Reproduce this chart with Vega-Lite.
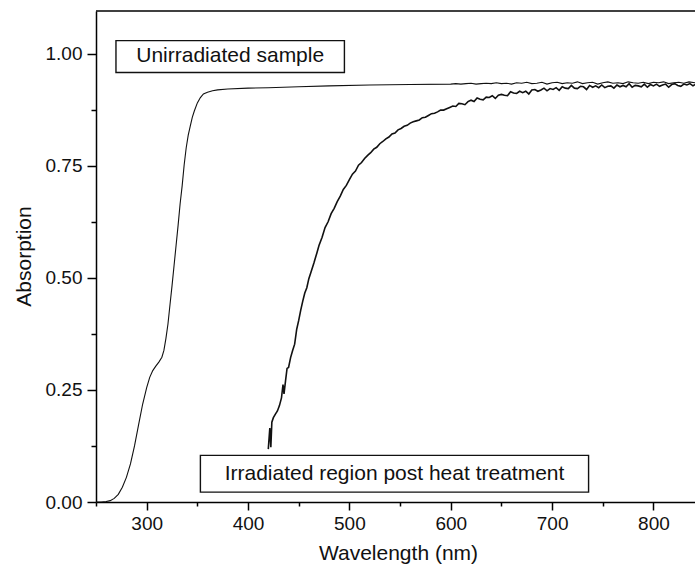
{
  "$schema": "https://vega.github.io/schema/vega-lite/v6.json",
  "autosize": "none",
  "width": 599,
  "height": 491,
  "padding": {"left": 96, "top": 11, "right": 0, "bottom": 63},
  "background": "white",
  "config": {
    "view": {"stroke": null},
    "font": "Liberation Sans",
    "axis": {
      "grid": false,
      "domainColor": "#000",
      "domainWidth": 1.5,
      "tickColor": "#000",
      "tickWidth": 1.5,
      "labelFont": "Liberation Sans",
      "labelFontSize": 19,
      "labelColor": "#111",
      "titleFont": "Liberation Sans",
      "titleFontSize": 21,
      "titleFontWeight": "normal",
      "titleColor": "#111"
    }
  },
  "resolve": {"axis": {"x": "independent", "y": "independent"}},
  "datasets": {
    "spectra": [
      {"series": "Unirradiated", "wl": 250, "abs": 0},
      {"series": "Unirradiated", "wl": 255, "abs": 0},
      {"series": "Unirradiated", "wl": 260, "abs": 0.001},
      {"series": "Unirradiated", "wl": 264, "abs": 0.003},
      {"series": "Unirradiated", "wl": 268, "abs": 0.008},
      {"series": "Unirradiated", "wl": 272, "abs": 0.017},
      {"series": "Unirradiated", "wl": 276, "abs": 0.033},
      {"series": "Unirradiated", "wl": 280, "abs": 0.055},
      {"series": "Unirradiated", "wl": 284, "abs": 0.085},
      {"series": "Unirradiated", "wl": 288, "abs": 0.125},
      {"series": "Unirradiated", "wl": 292, "abs": 0.172},
      {"series": "Unirradiated", "wl": 296, "abs": 0.218},
      {"series": "Unirradiated", "wl": 300, "abs": 0.255},
      {"series": "Unirradiated", "wl": 303, "abs": 0.278},
      {"series": "Unirradiated", "wl": 306, "abs": 0.293},
      {"series": "Unirradiated", "wl": 309, "abs": 0.303},
      {"series": "Unirradiated", "wl": 312, "abs": 0.312},
      {"series": "Unirradiated", "wl": 315, "abs": 0.323},
      {"series": "Unirradiated", "wl": 317, "abs": 0.338},
      {"series": "Unirradiated", "wl": 319, "abs": 0.365},
      {"series": "Unirradiated", "wl": 321, "abs": 0.397},
      {"series": "Unirradiated", "wl": 323, "abs": 0.44},
      {"series": "Unirradiated", "wl": 325, "abs": 0.482},
      {"series": "Unirradiated", "wl": 327, "abs": 0.527},
      {"series": "Unirradiated", "wl": 329, "abs": 0.572},
      {"series": "Unirradiated", "wl": 331, "abs": 0.617},
      {"series": "Unirradiated", "wl": 333, "abs": 0.665},
      {"series": "Unirradiated", "wl": 335, "abs": 0.705},
      {"series": "Unirradiated", "wl": 337, "abs": 0.752},
      {"series": "Unirradiated", "wl": 339, "abs": 0.79},
      {"series": "Unirradiated", "wl": 341, "abs": 0.818},
      {"series": "Unirradiated", "wl": 343, "abs": 0.838},
      {"series": "Unirradiated", "wl": 345, "abs": 0.858},
      {"series": "Unirradiated", "wl": 347, "abs": 0.872},
      {"series": "Unirradiated", "wl": 350, "abs": 0.89},
      {"series": "Unirradiated", "wl": 353, "abs": 0.902},
      {"series": "Unirradiated", "wl": 356, "abs": 0.91},
      {"series": "Unirradiated", "wl": 360, "abs": 0.914},
      {"series": "Unirradiated", "wl": 365, "abs": 0.917},
      {"series": "Unirradiated", "wl": 370, "abs": 0.919},
      {"series": "Unirradiated", "wl": 380, "abs": 0.921},
      {"series": "Unirradiated", "wl": 400, "abs": 0.923},
      {"series": "Unirradiated", "wl": 420, "abs": 0.924},
      {"series": "Unirradiated", "wl": 450, "abs": 0.926},
      {"series": "Unirradiated", "wl": 480, "abs": 0.928},
      {"series": "Unirradiated", "wl": 520, "abs": 0.93},
      {"series": "Unirradiated", "wl": 560, "abs": 0.931},
      {"series": "Unirradiated", "wl": 600, "abs": 0.932},
      {"series": "Unirradiated", "wl": 605, "abs": 0.933},
      {"series": "Unirradiated", "wl": 610, "abs": 0.932},
      {"series": "Unirradiated", "wl": 615, "abs": 0.933},
      {"series": "Unirradiated", "wl": 620, "abs": 0.934},
      {"series": "Unirradiated", "wl": 625, "abs": 0.932},
      {"series": "Unirradiated", "wl": 630, "abs": 0.933},
      {"series": "Unirradiated", "wl": 635, "abs": 0.934},
      {"series": "Unirradiated", "wl": 640, "abs": 0.933},
      {"series": "Unirradiated", "wl": 645, "abs": 0.935},
      {"series": "Unirradiated", "wl": 650, "abs": 0.933},
      {"series": "Unirradiated", "wl": 655, "abs": 0.934},
      {"series": "Unirradiated", "wl": 660, "abs": 0.932},
      {"series": "Unirradiated", "wl": 665, "abs": 0.935},
      {"series": "Unirradiated", "wl": 670, "abs": 0.934},
      {"series": "Unirradiated", "wl": 675, "abs": 0.936},
      {"series": "Unirradiated", "wl": 680, "abs": 0.933},
      {"series": "Unirradiated", "wl": 685, "abs": 0.934},
      {"series": "Unirradiated", "wl": 690, "abs": 0.936},
      {"series": "Unirradiated", "wl": 695, "abs": 0.932},
      {"series": "Unirradiated", "wl": 700, "abs": 0.935},
      {"series": "Unirradiated", "wl": 705, "abs": 0.936},
      {"series": "Unirradiated", "wl": 710, "abs": 0.933},
      {"series": "Unirradiated", "wl": 715, "abs": 0.935},
      {"series": "Unirradiated", "wl": 720, "abs": 0.934},
      {"series": "Unirradiated", "wl": 725, "abs": 0.937},
      {"series": "Unirradiated", "wl": 730, "abs": 0.933},
      {"series": "Unirradiated", "wl": 735, "abs": 0.935},
      {"series": "Unirradiated", "wl": 740, "abs": 0.936},
      {"series": "Unirradiated", "wl": 745, "abs": 0.932},
      {"series": "Unirradiated", "wl": 750, "abs": 0.935},
      {"series": "Unirradiated", "wl": 755, "abs": 0.937},
      {"series": "Unirradiated", "wl": 760, "abs": 0.934},
      {"series": "Unirradiated", "wl": 765, "abs": 0.935},
      {"series": "Unirradiated", "wl": 770, "abs": 0.933},
      {"series": "Unirradiated", "wl": 775, "abs": 0.937},
      {"series": "Unirradiated", "wl": 780, "abs": 0.935},
      {"series": "Unirradiated", "wl": 785, "abs": 0.934},
      {"series": "Unirradiated", "wl": 790, "abs": 0.936},
      {"series": "Unirradiated", "wl": 795, "abs": 0.933},
      {"series": "Unirradiated", "wl": 800, "abs": 0.936},
      {"series": "Unirradiated", "wl": 805, "abs": 0.935},
      {"series": "Unirradiated", "wl": 810, "abs": 0.937},
      {"series": "Unirradiated", "wl": 815, "abs": 0.933},
      {"series": "Unirradiated", "wl": 820, "abs": 0.935},
      {"series": "Unirradiated", "wl": 825, "abs": 0.936},
      {"series": "Unirradiated", "wl": 830, "abs": 0.934},
      {"series": "Unirradiated", "wl": 835, "abs": 0.937},
      {"series": "Unirradiated", "wl": 841, "abs": 0.935},
      {"series": "Irradiated", "wl": 420, "abs": 0.118},
      {"series": "Irradiated", "wl": 421.5, "abs": 0.165},
      {"series": "Irradiated", "wl": 422.5, "abs": 0.122},
      {"series": "Irradiated", "wl": 423.5, "abs": 0.178},
      {"series": "Irradiated", "wl": 425, "abs": 0.188},
      {"series": "Irradiated", "wl": 427, "abs": 0.196},
      {"series": "Irradiated", "wl": 429, "abs": 0.203},
      {"series": "Irradiated", "wl": 431, "abs": 0.215},
      {"series": "Irradiated", "wl": 433, "abs": 0.232},
      {"series": "Irradiated", "wl": 434.5, "abs": 0.262},
      {"series": "Irradiated", "wl": 435.5, "abs": 0.241},
      {"series": "Irradiated", "wl": 437, "abs": 0.27},
      {"series": "Irradiated", "wl": 438.5, "abs": 0.298},
      {"series": "Irradiated", "wl": 440, "abs": 0.3},
      {"series": "Irradiated", "wl": 442, "abs": 0.322},
      {"series": "Irradiated", "wl": 444, "abs": 0.338},
      {"series": "Irradiated", "wl": 446, "abs": 0.352},
      {"series": "Irradiated", "wl": 448, "abs": 0.385},
      {"series": "Irradiated", "wl": 450, "abs": 0.405},
      {"series": "Irradiated", "wl": 452, "abs": 0.428},
      {"series": "Irradiated", "wl": 454, "abs": 0.448},
      {"series": "Irradiated", "wl": 456, "abs": 0.466},
      {"series": "Irradiated", "wl": 458, "abs": 0.478},
      {"series": "Irradiated", "wl": 460, "abs": 0.498},
      {"series": "Irradiated", "wl": 462, "abs": 0.512},
      {"series": "Irradiated", "wl": 465, "abs": 0.533},
      {"series": "Irradiated", "wl": 468, "abs": 0.556},
      {"series": "Irradiated", "wl": 470, "abs": 0.572},
      {"series": "Irradiated", "wl": 473, "abs": 0.59},
      {"series": "Irradiated", "wl": 476, "abs": 0.612},
      {"series": "Irradiated", "wl": 479, "abs": 0.625},
      {"series": "Irradiated", "wl": 482, "abs": 0.643},
      {"series": "Irradiated", "wl": 485, "abs": 0.655},
      {"series": "Irradiated", "wl": 488, "abs": 0.67},
      {"series": "Irradiated", "wl": 491, "abs": 0.682},
      {"series": "Irradiated", "wl": 494, "abs": 0.697},
      {"series": "Irradiated", "wl": 497, "abs": 0.706},
      {"series": "Irradiated", "wl": 500, "abs": 0.719},
      {"series": "Irradiated", "wl": 503, "abs": 0.731},
      {"series": "Irradiated", "wl": 506, "abs": 0.738},
      {"series": "Irradiated", "wl": 509, "abs": 0.751},
      {"series": "Irradiated", "wl": 512, "abs": 0.757},
      {"series": "Irradiated", "wl": 515, "abs": 0.766},
      {"series": "Irradiated", "wl": 518, "abs": 0.773},
      {"series": "Irradiated", "wl": 521, "abs": 0.779},
      {"series": "Irradiated", "wl": 524, "abs": 0.787},
      {"series": "Irradiated", "wl": 527, "abs": 0.791},
      {"series": "Irradiated", "wl": 530, "abs": 0.799},
      {"series": "Irradiated", "wl": 533, "abs": 0.804},
      {"series": "Irradiated", "wl": 536, "abs": 0.81},
      {"series": "Irradiated", "wl": 539, "abs": 0.814},
      {"series": "Irradiated", "wl": 542, "abs": 0.821},
      {"series": "Irradiated", "wl": 545, "abs": 0.823},
      {"series": "Irradiated", "wl": 548, "abs": 0.83},
      {"series": "Irradiated", "wl": 551, "abs": 0.833},
      {"series": "Irradiated", "wl": 554, "abs": 0.838},
      {"series": "Irradiated", "wl": 557, "abs": 0.84},
      {"series": "Irradiated", "wl": 560, "abs": 0.845},
      {"series": "Irradiated", "wl": 563, "abs": 0.848},
      {"series": "Irradiated", "wl": 566, "abs": 0.85},
      {"series": "Irradiated", "wl": 569, "abs": 0.852},
      {"series": "Irradiated", "wl": 572, "abs": 0.857},
      {"series": "Irradiated", "wl": 575, "abs": 0.858},
      {"series": "Irradiated", "wl": 578, "abs": 0.862},
      {"series": "Irradiated", "wl": 581, "abs": 0.866},
      {"series": "Irradiated", "wl": 584, "abs": 0.867},
      {"series": "Irradiated", "wl": 587, "abs": 0.87},
      {"series": "Irradiated", "wl": 590, "abs": 0.874},
      {"series": "Irradiated", "wl": 593, "abs": 0.874},
      {"series": "Irradiated", "wl": 596, "abs": 0.877},
      {"series": "Irradiated", "wl": 599, "abs": 0.88},
      {"series": "Irradiated", "wl": 602, "abs": 0.883},
      {"series": "Irradiated", "wl": 605, "abs": 0.882},
      {"series": "Irradiated", "wl": 608, "abs": 0.889},
      {"series": "Irradiated", "wl": 611, "abs": 0.888},
      {"series": "Irradiated", "wl": 614, "abs": 0.886},
      {"series": "Irradiated", "wl": 617, "abs": 0.893},
      {"series": "Irradiated", "wl": 620, "abs": 0.896},
      {"series": "Irradiated", "wl": 623, "abs": 0.893},
      {"series": "Irradiated", "wl": 626, "abs": 0.901},
      {"series": "Irradiated", "wl": 629, "abs": 0.898},
      {"series": "Irradiated", "wl": 632, "abs": 0.897},
      {"series": "Irradiated", "wl": 635, "abs": 0.903},
      {"series": "Irradiated", "wl": 638, "abs": 0.902},
      {"series": "Irradiated", "wl": 641, "abs": 0.906},
      {"series": "Irradiated", "wl": 644, "abs": 0.9},
      {"series": "Irradiated", "wl": 647, "abs": 0.907},
      {"series": "Irradiated", "wl": 650, "abs": 0.909},
      {"series": "Irradiated", "wl": 653, "abs": 0.907},
      {"series": "Irradiated", "wl": 656, "abs": 0.906},
      {"series": "Irradiated", "wl": 659, "abs": 0.915},
      {"series": "Irradiated", "wl": 662, "abs": 0.912},
      {"series": "Irradiated", "wl": 665, "abs": 0.911},
      {"series": "Irradiated", "wl": 668, "abs": 0.916},
      {"series": "Irradiated", "wl": 671, "abs": 0.913},
      {"series": "Irradiated", "wl": 674, "abs": 0.916},
      {"series": "Irradiated", "wl": 677, "abs": 0.91},
      {"series": "Irradiated", "wl": 680, "abs": 0.919},
      {"series": "Irradiated", "wl": 683, "abs": 0.92},
      {"series": "Irradiated", "wl": 686, "abs": 0.916},
      {"series": "Irradiated", "wl": 689, "abs": 0.919},
      {"series": "Irradiated", "wl": 692, "abs": 0.923},
      {"series": "Irradiated", "wl": 695, "abs": 0.917},
      {"series": "Irradiated", "wl": 698, "abs": 0.922},
      {"series": "Irradiated", "wl": 701, "abs": 0.92},
      {"series": "Irradiated", "wl": 704, "abs": 0.924},
      {"series": "Irradiated", "wl": 707, "abs": 0.918},
      {"series": "Irradiated", "wl": 710, "abs": 0.926},
      {"series": "Irradiated", "wl": 713, "abs": 0.923},
      {"series": "Irradiated", "wl": 716, "abs": 0.922},
      {"series": "Irradiated", "wl": 719, "abs": 0.929},
      {"series": "Irradiated", "wl": 722, "abs": 0.923},
      {"series": "Irradiated", "wl": 725, "abs": 0.922},
      {"series": "Irradiated", "wl": 728, "abs": 0.927},
      {"series": "Irradiated", "wl": 731, "abs": 0.926},
      {"series": "Irradiated", "wl": 734, "abs": 0.92},
      {"series": "Irradiated", "wl": 737, "abs": 0.929},
      {"series": "Irradiated", "wl": 740, "abs": 0.925},
      {"series": "Irradiated", "wl": 743, "abs": 0.928},
      {"series": "Irradiated", "wl": 746, "abs": 0.924},
      {"series": "Irradiated", "wl": 749, "abs": 0.93},
      {"series": "Irradiated", "wl": 752, "abs": 0.924},
      {"series": "Irradiated", "wl": 755, "abs": 0.927},
      {"series": "Irradiated", "wl": 758, "abs": 0.928},
      {"series": "Irradiated", "wl": 761, "abs": 0.923},
      {"series": "Irradiated", "wl": 764, "abs": 0.93},
      {"series": "Irradiated", "wl": 767, "abs": 0.926},
      {"series": "Irradiated", "wl": 770, "abs": 0.929},
      {"series": "Irradiated", "wl": 773, "abs": 0.926},
      {"series": "Irradiated", "wl": 776, "abs": 0.933},
      {"series": "Irradiated", "wl": 779, "abs": 0.925},
      {"series": "Irradiated", "wl": 782, "abs": 0.929},
      {"series": "Irradiated", "wl": 785, "abs": 0.928},
      {"series": "Irradiated", "wl": 788, "abs": 0.926},
      {"series": "Irradiated", "wl": 791, "abs": 0.932},
      {"series": "Irradiated", "wl": 794, "abs": 0.925},
      {"series": "Irradiated", "wl": 797, "abs": 0.931},
      {"series": "Irradiated", "wl": 800, "abs": 0.928},
      {"series": "Irradiated", "wl": 803, "abs": 0.932},
      {"series": "Irradiated", "wl": 806, "abs": 0.927},
      {"series": "Irradiated", "wl": 809, "abs": 0.93},
      {"series": "Irradiated", "wl": 812, "abs": 0.932},
      {"series": "Irradiated", "wl": 815, "abs": 0.925},
      {"series": "Irradiated", "wl": 818, "abs": 0.931},
      {"series": "Irradiated", "wl": 821, "abs": 0.933},
      {"series": "Irradiated", "wl": 824, "abs": 0.929},
      {"series": "Irradiated", "wl": 827, "abs": 0.927},
      {"series": "Irradiated", "wl": 830, "abs": 0.932},
      {"series": "Irradiated", "wl": 833, "abs": 0.93},
      {"series": "Irradiated", "wl": 836, "abs": 0.933},
      {"series": "Irradiated", "wl": 839, "abs": 0.928},
      {"series": "Irradiated", "wl": 841, "abs": 0.931}
    ],
    "notes": [
      {"label": "Unirradiated sample", "bx1": 269.7, "bx2": 495.1, "by1": 1.029, "by2": 0.958, "tx": 382.4, "ty": 0.994},
      {"label": "Irradiated region post heat treatment", "bx1": 353.0, "bx2": 736.0, "by1": 0.104, "by2": 0.022, "tx": 544.5, "ty": 0.063}
    ]
  },
  "layer": [
    {
      "data": {"name": "spectra"},
      "mark": {"type": "line", "color": "#111", "clip": true},
      "encoding": {
        "x": {
          "field": "wl", "type": "quantitative",
          "scale": {"domain": [250, 841], "nice": false, "zero": false},
          "axis": {
            "orient": "bottom",
            "title": "Wavelength (nm)",
            "values": [300, 400, 500, 600, 700, 800],
            "tickSize": 8,
            "labelPadding": 4,
            "titleX": 302,
            "titleY": 57,
            "titleBaseline": "alphabetic"
          }
        },
        "y": {
          "field": "abs", "type": "quantitative",
          "scale": {"domain": [0, 1.095], "nice": false},
          "axis": {
            "orient": "left",
            "title": "Absorption",
            "values": [0, 0.25, 0.5, 0.75, 1.0],
            "format": ".2f",
            "tickSize": 9,
            "labelPadding": 5,
            "titleX": -72,
            "titleY": 245,
            "titleAngle": -90,
            "titleAlign": "center",
            "titleBaseline": "middle"
          }
        },
        "detail": {"field": "series", "type": "nominal"},
        "strokeWidth": {
          "field": "series", "type": "nominal",
          "scale": {"domain": ["Unirradiated", "Irradiated"], "range": [1.1, 1.6]},
          "legend": null
        }
      }
    },
    {
      "data": {"name": "notes"},
      "mark": {"type": "rect", "fill": "white", "stroke": "#111", "strokeWidth": 1.4},
      "encoding": {
        "x": {
          "field": "bx1", "type": "quantitative",
          "axis": {"orient": "bottom", "values": [250, 350, 450, 550, 650, 750], "labels": false, "domain": false, "title": null, "tickSize": 4}
        },
        "x2": {"field": "bx2"},
        "y": {
          "field": "by1", "type": "quantitative",
          "axis": {"orient": "left", "values": [0.125, 0.375, 0.625, 0.875], "labels": false, "domain": false, "title": null, "tickSize": 5}
        },
        "y2": {"field": "by2"}
      }
    },
    {
      "data": {"name": "notes"},
      "mark": {"type": "text", "font": "Liberation Sans", "fontSize": 21, "color": "#111", "align": "center", "baseline": "middle"},
      "encoding": {
        "x": {"field": "tx", "type": "quantitative", "axis": null},
        "y": {"field": "ty", "type": "quantitative", "axis": null},
        "text": {"field": "label"}
      }
    },
    {
      "data": {"values": [{"edge": "top"}]},
      "mark": {"type": "rule", "color": "#000", "strokeWidth": 1.5},
      "encoding": {"y": {"datum": 1.095, "axis": null}}
    }
  ]
}
